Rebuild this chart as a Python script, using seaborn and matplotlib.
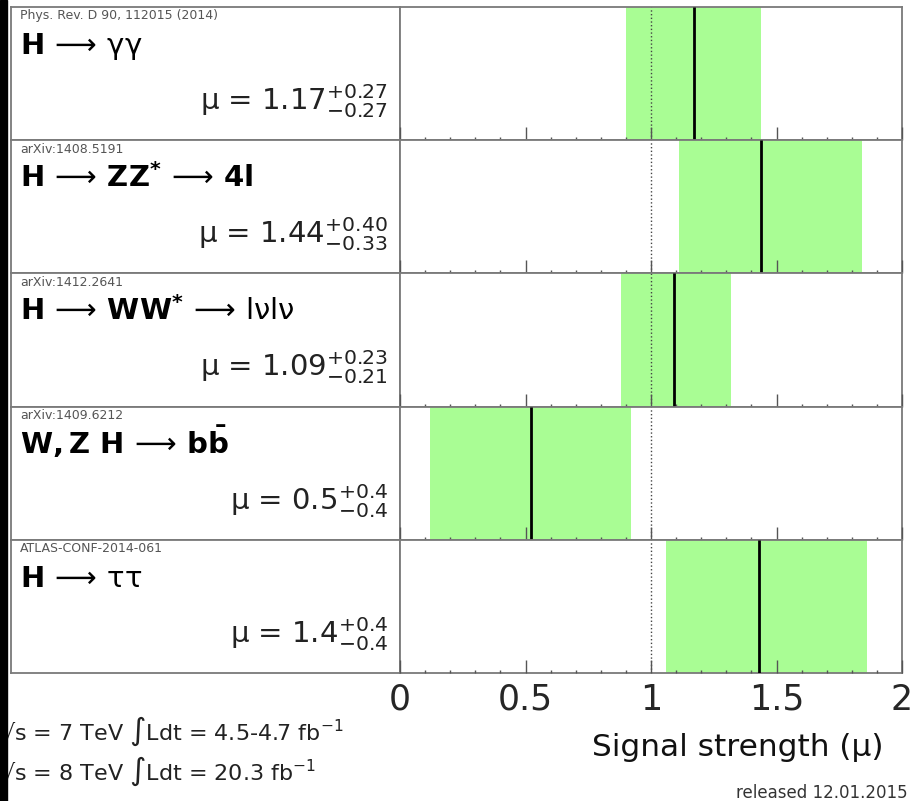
import matplotlib
matplotlib.use('Agg')
import matplotlib.pyplot as plt
import seaborn as sns
from matplotlib.patches import Rectangle
from matplotlib.ticker import MultipleLocator

# Channel results (ATLAS signal strengths)
channels = [r'$\mathbf{H}\,\longrightarrow\,\mathrm{\gamma\gamma}$',
            r'$\mathbf{H}\,\longrightarrow\,\mathbf{ZZ^{*}}\,\longrightarrow\,\mathbf{4l}$',
            r'$\mathbf{H}\,\longrightarrow\,\mathbf{WW^{*}}\,\longrightarrow\,\mathrm{l\nu l\nu}$',
            r'$\mathbf{W,Z\ H}\,\longrightarrow\,\mathbf{b\bar{b}}$',
            r'$\mathbf{H}\,\longrightarrow\,\mathrm{\tau\tau}$']
refs = ['Phys. Rev. D 90, 112015 (2014)', 'arXiv:1408.5191', 'arXiv:1412.2641',
        'arXiv:1409.6212', 'ATLAS-CONF-2014-061']
mu = [1.17, 1.44, 1.09, 0.52, 1.43]
err_up = [0.27, 0.40, 0.23, 0.40, 0.43]
err_down = [0.27, 0.33, 0.21, 0.40, 0.37]
mu_labels = ['1.17', '1.44', '1.09', '0.5', '1.4']
up_labels = ['+0.27', '+0.40', '+0.23', '+0.4', '+0.4']
down_labels = ['-0.27', '-0.33', '-0.21', '-0.4', '-0.4']
tick_vals = [0, 0.5, 1, 1.5, 2]
tick_labels = ['0', '0.5', '1', '1.5', '2']

sns.set_theme(style='white')
plt.rcParams['font.family'] = ['DejaVu Sans']
plt.rcParams['mathtext.fontset'] = 'dejavusans'

W, H = 916, 801
fig = plt.figure(figsize=(W / 100, H / 100), dpi=100)
fig.patch.set_facecolor('white')

def fx(px):
    return px / W

def fy(py):
    return 1 - py / H

green = '#a9fd94'
edge = '#7a7a7a'
row_top, row_h = 7, 133.2
left_x0, split_x, right_x1 = 11, 400, 902

for i in range(len(mu)):
    top = row_top + i * row_h
    bottom = fy(top + row_h)
    axl = fig.add_axes([fx(left_x0), bottom, fx(split_x) - fx(left_x0), row_h / H])
    axr = fig.add_axes([fx(split_x), bottom, fx(right_x1) - fx(split_x), row_h / H])

    # left panel: reference, channel name, result
    axl.set_xticks([])
    axl.set_yticks([])
    for s in axl.spines.values():
        s.set_color(edge)
        s.set_linewidth(1.3)
    axl.text(9 / 389, 1 - 9 / row_h, refs[i], transform=axl.transAxes,
             fontsize=9, color='#555555', va='center', ha='left')
    axl.text(9 / 389, 1 - 47 / row_h, channels[i], transform=axl.transAxes,
             fontsize=21, color='black', va='baseline', ha='left')
    label = 'μ = ' + mu_labels[i] + '$^{' + up_labels[i] + '}_{' + down_labels[i] + '}$'
    axl.text(377 / 389, 1 - 103 / row_h, label, transform=axl.transAxes,
             fontsize=21, color='#222222', va='baseline', ha='right')

    # right panel: band + central value
    axr.set_xlim(0, 2)
    axr.set_ylim(0, 1)
    axr.fill_betweenx([0, 1], mu[i] - err_down[i], mu[i] + err_up[i],
                      color=green, lw=0, zorder=1)
    sns.rugplot(x=[mu[i]], height=1, ax=axr, color='black', linewidth=2,
                expand_margins=False, zorder=3)
    axr.axvline(1, color='#444444', ls=':', lw=1, zorder=2)
    axr.set_axisbelow(False)
    for s in axr.spines.values():
        s.set_color(edge)
        s.set_linewidth(1.3)
    axr.set_yticks([])
    axr.set_xticks(tick_vals)
    axr.xaxis.set_minor_locator(MultipleLocator(0.1))
    axr.tick_params(axis='x', which='major', direction='in', length=9.5,
                    width=1, color='#555555', bottom=True, top=False,
                    labelbottom=(i == len(mu) - 1), labelsize=25, pad=7)
    axr.tick_params(axis='x', which='minor', direction='in', length=2.2,
                    width=1, color='#555555', bottom=True, top=False)
    if i == len(mu) - 1:
        axr.set_xticklabels(tick_labels)
    else:
        axr.set_xticklabels([])

fig.text(fx(883), fy(748), 'Signal strength (μ)', ha='right', va='center',
         fontsize=22.5, color='#111111')
fig.text(fx(0), fy(731), '√s = 7 TeV ∫Ldt = 4.5-4.7 fb$^{-1}$',
         ha='left', va='center', fontsize=16, color='#222222')
fig.text(fx(0), fy(771), '√s = 8 TeV ∫Ldt = 20.3 fb$^{-1}$',
         ha='left', va='center', fontsize=16, color='#222222')
fig.text(fx(908), fy(793), 'released 12.01.2015', ha='right', va='center',
         fontsize=12, color='#333333')

# black strip on the left edge
fig.add_artist(Rectangle((0, 0), fx(7), 1, transform=fig.transFigure,
                         color='black', zorder=10))

fig.savefig('out.png', dpi=100)
